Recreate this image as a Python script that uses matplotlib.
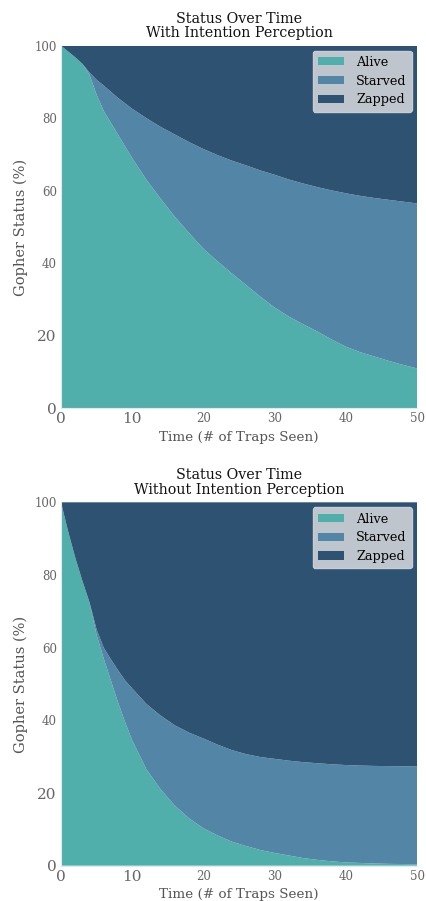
import matplotlib
matplotlib.use("Agg")
import matplotlib.pyplot as plt
import numpy as np

plt.rcParams['font.family'] = ['DejaVu Serif']

# ---- data: top panel (with intention perception) ----
x_with = [0, 1, 2, 3, 4, 5, 6, 8, 10, 12, 14, 16, 18, 20, 22, 24, 26, 28, 30,
          32, 34, 36, 38, 40, 42, 44, 46, 48, 50]
alive_with = [100, 98.4, 96.8, 95.0, 92.0, 86.5, 82.0, 75.5, 69.0, 63.0, 57.8,
              52.8, 48.3, 44.0, 40.5, 37.2, 34.0, 30.8, 27.8, 25.3, 23.2, 21.2,
              19.0, 17.0, 15.5, 14.3, 13.1, 12.0, 11.0]
starved_top_with = [100, 98.4, 96.8, 95.0, 92.6, 90.6, 89.0, 85.6, 82.6, 80.0,
                    77.6, 75.5, 73.4, 71.5, 69.8, 68.3, 67.0, 65.6, 64.4, 63.1,
                    62.0, 61.0, 60.1, 59.3, 58.6, 58.0, 57.5, 57.0, 56.5]

# ---- data: bottom panel (without intention perception) ----
x_without = [0, 1, 2, 3, 4, 5, 6, 7, 8, 9, 10, 12, 14, 16, 18, 20, 22, 24, 26,
             28, 30, 32, 34, 36, 38, 40, 42, 44, 46, 48, 50]
alive_without = [100, 92.0, 84.8, 78.4, 72.5, 63.5, 57.0, 51.0, 45.0, 39.5,
                 34.5, 26.5, 21.0, 16.5, 13.0, 10.3, 8.3, 6.6, 5.4, 4.3, 3.5,
                 2.8, 2.1, 1.6, 1.2, 0.9, 0.75, 0.6, 0.5, 0.45, 0.4]
starved_top_without = [100, 92.0, 84.8, 78.4, 72.5, 65.0, 60.0, 56.8, 53.8,
                       51.0, 48.8, 44.5, 41.3, 38.6, 36.6, 35.0, 33.3, 31.8,
                       30.7, 29.9, 29.4, 28.9, 28.5, 28.2, 27.9, 27.7, 27.55,
                       27.45, 27.4, 27.35, 27.3]

labels = ["Alive", "Starved", "Zapped"]
colors = ["#50aeab", "#5385a6", "#2e5372"]
titles = ["Status Over Time\nWith Intention Perception",
          "Status Over Time\nWithout Intention Perception"]
xticks = [0, 10, 20, 30, 40, 50]
yticks = [0, 20, 40, 60, 80, 100]

fig = plt.figure(figsize=(4.26, 9.01), dpi=100)
ax1 = fig.add_axes([0.1432, 0.5468, 0.8357, 0.4025])
ax2 = fig.add_axes([0.1432, 0.0392, 0.8357, 0.4033])

panels = [(ax1, x_with, alive_with, starved_top_with, titles[0]),
          (ax2, x_without, alive_without, starved_top_without, titles[1])]

for ax, xs, alive, stop, title in panels:
    a = np.array(alive)
    s = np.array(stop) - a
    z = 100 - np.array(stop)
    ax.stackplot(xs, a, s, z, labels=labels, colors=colors, linewidth=0)
    ax.set_xlim(0, 50)
    ax.set_ylim(0, 100)
    ax.set_title(title, fontsize=10.3, color='#111111', pad=6, linespacing=1.05)
    ax.set_xlabel("Time (# of Traps Seen)", fontsize=9.7, color='#555555', labelpad=3)
    ax.set_ylabel("Gopher Status (%)", fontsize=10.5, color='#555555', labelpad=5)
    ax.set_xticks(xticks)
    ax.set_yticks(yticks)
    ax.set_xticklabels([str(v) for v in xticks])
    ax.set_yticklabels([str(v) for v in yticks])
    ax.tick_params(length=0, pad=3, colors='#666666')
    for lab, v in zip(ax.get_xticklabels(), xticks):
        lab.set_fontsize(11 if v in (0, 10) else 8.5)
    for lab, v in zip(ax.get_yticklabels(), yticks):
        lab.set_fontsize(11 if v in (0, 20) else 8.5)
    for sp in ax.spines.values():
        sp.set_visible(False)
    for side in ("left", "bottom"):
        ax.spines[side].set_visible(True)
        ax.spines[side].set_color('#e3e8ec')
        ax.spines[side].set_linewidth(0.8)
    leg = ax.legend(loc='upper right', fontsize=9.2, frameon=True, fancybox=True,
                    borderaxespad=0.4, handlelength=2.0, handleheight=0.6,
                    handletextpad=1.0, labelspacing=0.45)
    leg.get_frame().set_facecolor('#bfc5cc')
    leg.get_frame().set_edgecolor('#c8cdd3')
    leg.get_frame().set_alpha(1.0)

fig.savefig("out.png", dpi=100)
